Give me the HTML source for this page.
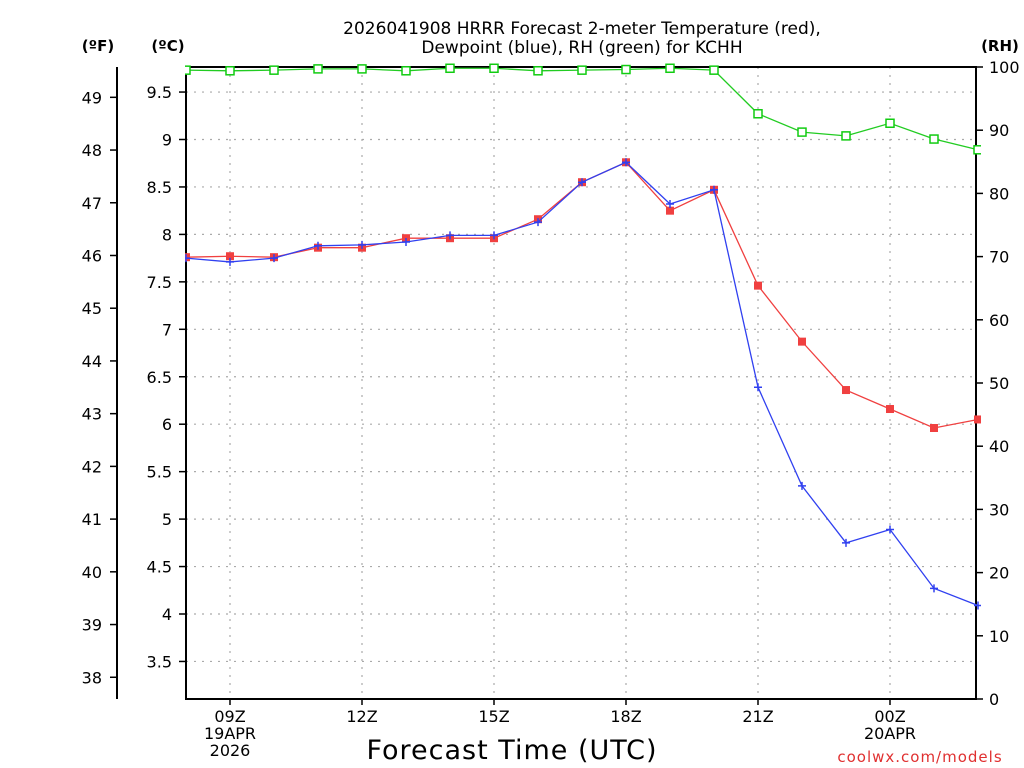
<!DOCTYPE html>
<html><head><meta charset="utf-8"><style>
body{margin:0;background:#fff;}
svg{display:block;font-family:"DejaVu Sans","Liberation Sans",sans-serif;}
</style></head><body>
<svg id="chart" width="1024" height="768" viewBox="0 0 1024 768" xmlns="http://www.w3.org/2000/svg">
<g id="grid"></g>
<g id="axes"></g>
<g id="series"></g>
<text x="582" y="34" font-size="17" text-anchor="middle">2026041908 HRRR Forecast 2-meter Temperature (red),</text>
<text x="582" y="53" font-size="17" text-anchor="middle">Dewpoint (blue), RH (green) for KCHH</text>
<text x="98" y="51" font-size="15" font-weight="bold" text-anchor="middle">(ºF)</text>
<text x="168" y="51" font-size="15" font-weight="bold" text-anchor="middle">(ºC)</text>
<text x="1000" y="51" font-size="15" font-weight="bold" text-anchor="middle">(RH)</text>
<text x="512" y="759" font-size="27" text-anchor="middle" letter-spacing="1">Forecast Time (UTC)</text>
<text x="920" y="762" font-size="15" fill="#e03030" text-anchor="middle" letter-spacing="1">coolwx.com/models</text>
</svg>
<script>
const hours=[8,9,10,11,12,13,14,15,16,17,18,19,20,21,22,23,24,25,26];
const tempC=[7.76,7.77,7.76,7.86,7.86,7.96,7.96,7.96,8.16,8.55,8.76,8.25,8.47,7.46,6.87,6.36,6.16,5.96,6.05];
const dewC=[7.75,7.71,7.75,7.88,7.89,7.92,7.99,7.99,8.13,8.55,8.76,8.32,8.47,6.39,5.35,4.75,4.89,4.27,4.09];
const rh=[99.5,99.4,99.5,99.7,99.7,99.4,99.8,99.8,99.4,99.5,99.6,99.8,99.5,92.6,89.7,89.1,91.1,88.6,86.9];
const cTicks=[3.5,4,4.5,5,5.5,6,6.5,7,7.5,8,8.5,9,9.5];
const fTicks=[38,39,40,41,42,43,44,45,46,47,48,49];
const rhTicks=[0,10,20,30,40,50,60,70,80,90,100];
const xTickHours=[9,12,15,18,21,24];
const xTickLabels=[["09Z","19APR","2026"],["12Z"],["15Z"],["18Z"],["21Z"],["00Z","20APR"]];

const L=186,R=976,T=67,B=699;
const xs=h=>L+(h-8)*44;
const yC=c=>614-(c-4)*94.9;
const yF=f=>yC((f-32)*5/9);
const yR=r=>B-r*(B-T)/100;
const NS="http://www.w3.org/2000/svg";
function mk(tag,attrs,parent){const e=document.createElementNS(NS,tag);for(const k in attrs)e.setAttribute(k,attrs[k]);parent.appendChild(e);return e;}
const grid=document.getElementById('grid'),axes=document.getElementById('axes'),series=document.getElementById('series');
cTicks.forEach(c=>{
 const g=mk('line',{x1:L,x2:R,y1:yC(c),y2:yC(c),stroke:'#aaa','stroke-dasharray':'2,6','stroke-width':1.2},grid);
 
 
 const t=mk('line',{x1:L-7,x2:L,y1:yC(c),y2:yC(c),stroke:'#000','stroke-width':1.5},axes);
 
 
 const tx=mk('text',{x:L-14,y:yC(c)+6,'font-size':16,'text-anchor':'end'},axes);
 tx.textContent=c;
 
 
});
xTickHours.forEach((h,i)=>{
 const g=mk('line',{x1:xs(h),x2:xs(h),y1:T,y2:B,stroke:'#aaa','stroke-dasharray':'2,6','stroke-width':1.2},grid);
 
 
 const t=mk('line',{x1:xs(h),x2:xs(h),y1:B,y2:B+6,stroke:'#000','stroke-width':1.5},axes);
 
 
 xTickLabels[i].forEach((s,j)=>{
  const tx=mk('text',{x:xs(h),y:722+j*17,'font-size':16,'text-anchor':'middle'},axes);
  tx.textContent=s;
  
  
 });
});
fTicks.forEach(f=>{
 const t=mk('line',{x1:110,x2:117,y1:yF(f),y2:yF(f),stroke:'#000','stroke-width':1.5},axes);
 
 
 const tx=mk('text',{x:102,y:yF(f)+6,'font-size':16,'text-anchor':'end'},axes);
 tx.textContent=f;
 
 
});
rhTicks.forEach(r=>{
 const t=mk('line',{x1:R,x2:R+7,y1:yR(r),y2:yR(r),stroke:'#000','stroke-width':1.5},axes);
 
 
 const tx=mk('text',{x:989,y:yR(r)+6,'font-size':16,'text-anchor':'start'},axes);
 tx.textContent=r;
 
 
});
const fa=mk('line',{x1:117,x2:117,y1:T,y2:B,stroke:'#000','stroke-width':2},axes);


const fr=mk('rect',{x:L,y:T,width:R-L,height:B-T,fill:'none',stroke:'#000','stroke-width':2},axes);


const clip=mk('clipPath',{id:'pc'},document.getElementById('chart'));
mk('rect',{x:L-1,y:T-6,width:R-L+6,height:B-T+12},clip);
series.setAttribute('clip-path','url(#pc)');
function line(vals,yf,color,name){
 const p=mk('polyline',{points:vals.map((v,i)=>xs(hours[i])+','+yf(v)).join(' '),fill:'none',stroke:color,'stroke-width':1.3},series);
 
 
}
line(rh,yR,'#22cc22','rh-line');
rh.forEach((v,i)=>{
 const m=mk('rect',{x:xs(hours[i])-4,y:yR(v)-4,width:8,height:8,fill:'#fff',stroke:'#11cc11','stroke-width':1.5},series);
 
 
});
line(tempC,yC,'#f04040','temperature-line');
tempC.forEach((v,i)=>{
 const m=mk('rect',{x:xs(hours[i])-4,y:yC(v)-4,width:8,height:8,fill:'#f04040'},series);
 
 
});
line(dewC,yC,'#3040f0','dewpoint-line');
dewC.forEach((v,i)=>{
 const x=xs(hours[i]),y=yC(v);
 const m=mk('path',{d:`M${x-4},${y}H${x+4}M${x},${y-4}V${y+4}`,stroke:'#3040f0','stroke-width':1.5},series);
 
 
});
</script>
</body></html>
